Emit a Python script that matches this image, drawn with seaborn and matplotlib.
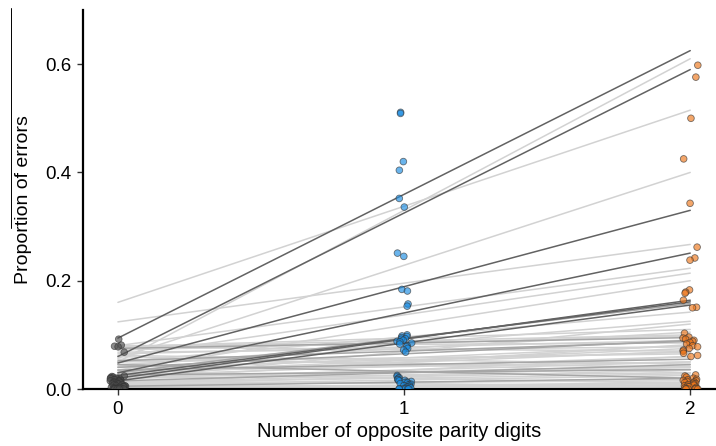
import numpy as np
import pandas as pd
import matplotlib.pyplot as plt
from matplotlib.lines import Line2D
import seaborn as sns

# x categories (number of opposite parity digits)
digits = [0, 1, 2]

# per-participant proportion of errors at each level
err_0 = [0.092, 0.081, 0.079, 0.078, 0.068,
         0.024, 0.023, 0.022, 0.021, 0.020, 0.019, 0.018, 0.018, 0.017, 0.016,
         0.015, 0.015, 0.014, 0.013, 0.012, 0.012, 0.011, 0.010, 0.010, 0.009,
         0.008, 0.008, 0.007, 0.006, 0.006, 0.005, 0.005, 0.004, 0.004, 0.003,
         0.003, 0.002, 0.002, 0.001, 0.001, 0.0, 0.0, 0.0, 0.0, 0.0, 0.0, 0.0]
err_1 = [0.511, 0.509, 0.420, 0.404, 0.352, 0.336, 0.251, 0.245, 0.184, 0.181,
         0.157, 0.153,
         0.100, 0.098, 0.097, 0.095, 0.093, 0.092, 0.090, 0.088, 0.087, 0.085,
         0.083, 0.080, 0.078, 0.075, 0.072, 0.068,
         0.025, 0.023, 0.021, 0.020, 0.018, 0.017, 0.016, 0.015, 0.014, 0.013,
         0.012, 0.011, 0.010, 0.009, 0.008, 0.007, 0.006, 0.005, 0.004, 0.003,
         0.002, 0.001, 0.0, 0.0, 0.0, 0.0, 0.0, 0.0]
err_2 = [0.598, 0.576, 0.500, 0.425, 0.343, 0.262, 0.242, 0.238,
         0.183, 0.179, 0.177, 0.164, 0.151, 0.150,
         0.103, 0.096, 0.094, 0.092, 0.090, 0.088, 0.086, 0.083, 0.080, 0.078,
         0.075, 0.072, 0.070, 0.066, 0.062, 0.060,
         0.026, 0.024, 0.022, 0.020, 0.018, 0.017, 0.016, 0.015, 0.014, 0.013,
         0.012, 0.011, 0.010, 0.009, 0.008, 0.007, 0.006, 0.005, 0.004, 0.003,
         0.002, 0.001, 0.0, 0.0, 0.0, 0.0, 0.0]

# per-participant fitted lines: value at 0 and at 2, plus shade
line_start = [0.094, 0.060, 0.050, 0.160, 0.057, 0.048, 0.124, 0.030, 0.080, 0.060,
              0.035, 0.020, 0.025, 0.030, 0.015, 0.050, 0.078, 0.078, 0.075, 0.080,
              0.077, 0.045, 0.040, 0.035, 0.030, 0.050, 0.055, 0.060, 0.045, 0.025,
              0.020, 0.015, 0.012, 0.010, 0.020, 0.008, 0.005, 0.010, 0.030, 0.004,
              0.002, 0.015, 0.006, 0.035, 0.028, 0.042, 0.018, 0.065, 0.010, 0.000,
              0.072, 0.068, 0.052, 0.040, 0.033, 0.022, 0.012, 0.007, 0.003, 0.026,
              0.062, 0.018]
line_end = [0.625, 0.590, 0.610, 0.515, 0.400, 0.330, 0.267, 0.251, 0.223, 0.214,
            0.200, 0.164, 0.161, 0.158, 0.155, 0.142, 0.110, 0.100, 0.095, 0.085,
            0.070, 0.105, 0.090, 0.080, 0.075, 0.065, 0.040, 0.030, 0.020, 0.060,
            0.050, 0.045, 0.040, 0.035, 0.030, 0.025, 0.020, 0.015, 0.010, 0.010,
            0.008, 0.005, 0.003, 0.055, 0.070, 0.125, 0.120, 0.090, 0.060, 0.012,
            0.098, 0.078, 0.088, 0.068, 0.050, 0.042, 0.028, 0.018, 0.006, 0.036,
            0.046, 0.082]
line_shade = ['dark', 'dark', 'light', 'light', 'light', 'dark', 'light', 'dark', 'light', 'light',
              'light', 'dark', 'dark', 'mid', 'dark', 'light', 'light', 'light', 'mid', 'light',
              'light', 'light', 'mid', 'light', 'light', 'light', 'light', 'light', 'mid', 'light',
              'light', 'mid', 'light', 'light', 'light', 'light', 'mid', 'light', 'light', 'light',
              'light', 'light', 'light', 'mid', 'light', 'light', 'light', 'light', 'light', 'light',
              'light', 'light', 'mid', 'light', 'light', 'light', 'light', 'light', 'light', 'mid',
              'light', 'light']

# long tables
lines_df = pd.DataFrame({
    'pid': list(range(len(line_start))) * 2,
    'digits': [digits[0]] * len(line_start) + [digits[2]] * len(line_end),
    'err': line_start + line_end,
    'shade': line_shade * 2,
})
pts_df = pd.DataFrame({
    'digits': [0] * len(err_0) + [1] * len(err_1) + [2] * len(err_2),
    'err': err_0 + err_1 + err_2,
})

sns.set_style('ticks')
plt.rcParams['font.family'] = ['Liberation Sans', 'DejaVu Sans']

fig = plt.figure(figsize=(7.16, 4.46), dpi=100)
ax = fig.add_axes([83 / 716, 1 - 389 / 446, 1 - 83 / 716, 379 / 446])

sns.lineplot(data=lines_df, x='digits', y='err', units='pid', estimator=None,
             hue='shade', hue_order=['light', 'mid', 'dark'],
             palette={'light': '#d2d2d2', 'mid': '#a6a6a6', 'dark': '#626262'},
             lw=1.1, legend=False, ax=ax)

np.random.seed(3)
sns.stripplot(data=pts_df, x='digits', y='err', hue='digits',
              palette=['#4e4e4e', '#1a8ce2', '#ee761a'],
              jitter=0.028, size=4.8, alpha=0.65, edgecolor='#333333',
              linewidth=0.6, legend=False, zorder=3, ax=ax)

ax.set_xlim(-0.122, 2.09)
ax.set_ylim(0, 0.70)
ax.set_yticks([0.0, 0.2, 0.4, 0.6])
ax.set_yticklabels(['0.0', '0.2', '0.4', '0.6'])
ax.set_xticks([0, 1, 2])
ax.set_xticklabels(['0', '1', '2'])
ax.tick_params(labelsize=13.5, length=4.5, width=1, color='#333333',
               labelcolor='black', pad=4)
ax.set_xlabel('Number of opposite parity digits', fontsize=14.5, labelpad=3,
              color='black')
ax.set_ylabel('Proportion of errors', fontsize=14, labelpad=9, color='black')
sns.despine(ax=ax)
for s in ['left', 'bottom']:
    ax.spines[s].set_linewidth(1.6)
    ax.spines[s].set_color('black')

# thin rule at the far left edge of the picture
fig.add_artist(Line2D([11 / 716, 11 / 716], [1 - 8 / 446, 1 - 228 / 446],
                      color='black', lw=0.7))

fig.savefig('out.png', dpi=100)
